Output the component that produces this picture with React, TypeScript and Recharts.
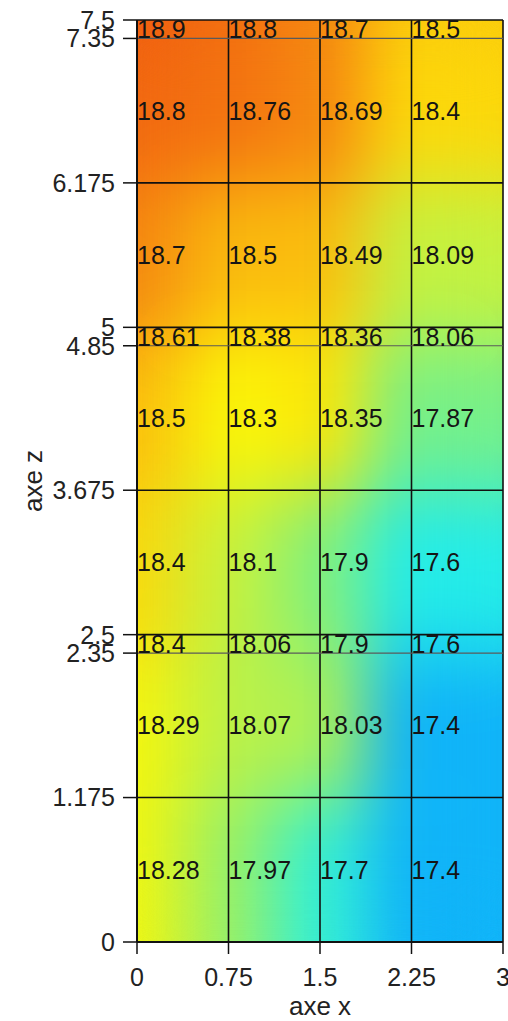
import React from "react";
import { ScatterChart, Scatter, XAxis, YAxis, ReferenceArea, ReferenceLine } from "recharts";

const FONT = "'Liberation Sans', Arial, sans-serif";

// ---- data ----
const xTicks = [0, 0.75, 1.5, 2.25, 3];
const xNodes = [0, 0.75, 1.5, 2.25];
const zTicks = [0, 1.175, 2.35, 2.5, 3.675, 4.85, 5, 6.175, 7.35, 7.5];
const zThin = [7.35, 4.85, 2.35];

// bands from top to bottom
const zLow = [7.35, 6.175, 5, 4.85, 3.675, 2.5, 2.35, 1.175, 0];
const zHigh = [7.5, 7.35, 6.175, 5, 4.85, 3.675, 2.5, 2.35, 1.175];

// one row per band, one value per node (x = 0, 0.75, 1.5, 2.25)
const temps = [
  [18.9, 18.8, 18.7, 18.5],
  [18.8, 18.76, 18.69, 18.4],
  [18.7, 18.5, 18.49, 18.09],
  [18.61, 18.38, 18.36, 18.06],
  [18.5, 18.3, 18.35, 17.87],
  [18.4, 18.1, 17.9, 17.6],
  [18.4, 18.06, 17.9, 17.6],
  [18.29, 18.07, 18.03, 17.4],
  [18.28, 17.97, 17.7, 17.4],
];

// each value fills the area closest to its node
const cells = temps.flatMap((row, i) =>
  row.map((v, j) => ({
    x1: j === 0 ? xTicks[0] : (xNodes[j - 1] + xNodes[j]) / 2,
    x2: j === xNodes.length - 1 ? xTicks[xTicks.length - 1] : (xNodes[j] + xNodes[j + 1]) / 2,
    y1: zLow[i],
    y2: zHigh[i],
    v,
  }))
);

const labelPoints = temps.flatMap((row, i) =>
  row.map((v, j) => ({ x: xNodes[j], z: (zLow[i] + zHigh[i]) / 2, v }))
);

// ---- colour scale (blue -> cyan -> green -> yellow -> orange -> red) ----
const STOPS: [number, number[]][] = [
  [17.1, [16, 96, 236]],
  [17.4, [16, 180, 248]],
  [17.6, [36, 236, 232]],
  [17.7, [52, 240, 212]],
  [17.9, [130, 240, 124]],
  [18.0, [160, 240, 96]],
  [18.1, [200, 242, 60]],
  [18.2, [232, 246, 24]],
  [18.3, [250, 246, 8]],
  [18.4, [252, 216, 10]],
  [18.5, [250, 186, 14]],
  [18.6, [248, 160, 16]],
  [18.7, [245, 132, 16]],
  [18.8, [242, 104, 16]],
  [18.9, [238, 76, 16]],
];

function heat(v: number) {
  if (v <= STOPS[0][0]) return `rgb(${STOPS[0][1].join(",")})`;
  for (let i = 1; i < STOPS.length; i++) {
    const [v1, c1] = STOPS[i];
    const [v0, c0] = STOPS[i - 1];
    if (v <= v1) {
      const t = (v - v0) / (v1 - v0);
      const c = c0.map((a, k) => Math.round(a + (c1[k] - a) * t));
      return `rgb(${c.join(",")})`;
    }
  }
  return `rgb(${STOPS[STOPS.length - 1][1].join(",")})`;
}

const ValueLabel = (p: any) => (
  <text x={p.cx} y={p.cy + 9} fontSize={25} fontFamily={FONT} fill="#151515">
    {p.payload.v}
  </text>
);

const Empty = () => <g />;

const ZTitle = (p: any) => {
  const vb = p.viewBox || { x: 0, y: 20, width: 137, height: 922 };
  const x = 42;
  const y = vb.y + vb.height / 2;
  return (
    <text x={x} y={y} transform={`rotate(-90 ${x} ${y})`} textAnchor="middle" fontSize={26} fontFamily={FONT} fill="#222">
      axe z
    </text>
  );
};

const tickStyle = { fill: "#222", fontSize: 25, fontFamily: FONT };

export default function App() {
  return (
    <div style={{ position: "absolute", left: 0, top: 0, width: 508, height: 1021, background: "#fff" }}>
      <svg width={0} height={0} style={{ position: "absolute" }}>
        <filter id="heatSmooth" x="0" y="0" width="100%" height="100%" colorInterpolationFilters="sRGB">
          <feGaussianBlur stdDeviation="32 40" />
          <feComponentTransfer>
            <feFuncA type="table" tableValues="1 1" />
          </feComponentTransfer>
        </filter>
      </svg>

      {/* smoothed colour field */}
      <div style={{ position: "absolute", left: 137, top: 20, width: 366, height: 922, overflow: "hidden" }}>
        <div style={{ filter: "url(#heatSmooth)", width: 366, height: 922 }}>
          <ScatterChart width={366} height={922} margin={{ top: 0, right: 0, bottom: 0, left: 0 }}>
            <XAxis type="number" dataKey="x" domain={[0, 3]} hide />
            <YAxis type="number" dataKey="z" domain={[0, 7.5]} hide />
            {cells.map((c, k) => (
              <ReferenceArea
                key={k}
                x1={c.x1}
                x2={c.x2}
                y1={c.y1}
                y2={c.y2}
                fill={heat(c.v)}
                fillOpacity={1}
                stroke="none"
                ifOverflow="visible"
              />
            ))}
            <Scatter data={labelPoints} shape={Empty} isAnimationActive={false} />
          </ScatterChart>
        </div>
      </div>

      {/* axes, grid and values */}
      <div style={{ position: "absolute", left: 0, top: 0 }}>
        <ScatterChart width={508} height={1021} margin={{ top: 20, right: 5, bottom: 0, left: 0 }}>
          <XAxis
            type="number"
            dataKey="x"
            domain={[0, 3]}
            ticks={xTicks}
            interval={0}
            height={79}
            tickSize={12}
            tickMargin={14}
            axisLine={{ stroke: "#111", strokeWidth: 2 }}
            tickLine={{ stroke: "#111", strokeWidth: 1.5 }}
            tick={tickStyle}
            label={{ value: "axe x", position: "insideBottom", offset: 6, fontSize: 26, fontFamily: FONT, fill: "#222" }}
          />
          <YAxis
            type="number"
            dataKey="z"
            domain={[0, 7.5]}
            ticks={zTicks}
            interval={0}
            width={137}
            tickSize={14}
            tickMargin={8}
            axisLine={{ stroke: "#111", strokeWidth: 2 }}
            tickLine={{ stroke: "#111", strokeWidth: 1.5 }}
            tick={tickStyle}
            label={<ZTitle />}
          />
          {xTicks.slice(1).map((x) => (
            <ReferenceLine key={`x${x}`} x={x} stroke="#111" strokeWidth={1.6} />
          ))}
          {zTicks.slice(1).map((z) => (
            <ReferenceLine
              key={`z${z}`}
              y={z}
              stroke={zThin.includes(z) ? "#5a5a5a" : "#111"}
              strokeWidth={zThin.includes(z) ? 1.2 : 1.6}
            />
          ))}
          <Scatter data={labelPoints} shape={ValueLabel} isAnimationActive={false} />
        </ScatterChart>
      </div>
    </div>
  );
}
